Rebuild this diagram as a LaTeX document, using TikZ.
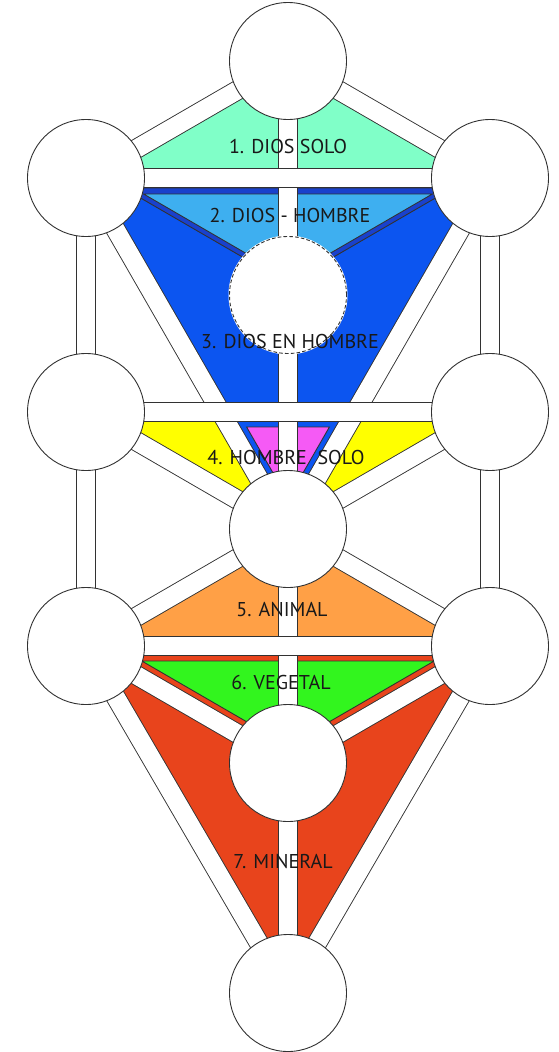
\documentclass[tikz,border=0pt]{standalone}
\usepackage{fontspec}
\setmainfont{PT Sans}
\definecolor{mint}{RGB}{128,255,200}
\definecolor{lblue}{RGB}{62,175,240}
\definecolor{dblue}{RGB}{25,65,205}
\definecolor{mblue}{RGB}{12,85,240}
\definecolor{mag}{RGB}{245,90,245}
\definecolor{yel}{RGB}{255,255,0}
\definecolor{orng}{RGB}{255,160,70}
\definecolor{grn}{RGB}{50,245,30}
\definecolor{redr}{RGB}{232,68,28}
\definecolor{ink}{RGB}{50,50,50}
\definecolor{txt}{RGB}{25,25,25}
\begin{document}
\begin{tikzpicture}[x=1pt,y=-1pt,line join=miter,
  outl/.style={draw=ink,line width=0.9pt},
  pathbar/.style={draw=ink,line width=0.9pt,double=white,double distance=18.2pt},
  sephira/.style={circle,draw=ink,line width=0.9pt,fill=white,minimum size=117pt,inner sep=0pt},
  lbl/.style={text=txt,font=\fontsize{20}{24}\selectfont,inner sep=0pt}]
\useasboundingbox (0,0) rectangle (559,1052);
% centres
\coordinate (K) at (288,61);
\coordinate (B) at (86,178);
\coordinate (C) at (490,178);
\coordinate (D) at (288,295);
\coordinate (G) at (86,412);
\coordinate (Ch) at (490,412);
\coordinate (T) at (288,529);
\coordinate (H) at (86,646);
\coordinate (N) at (490,646);
\coordinate (Y) at (288,763);
\coordinate (M) at (288,993);
% coloured fields
\fill[mint] (K) -- (B) -- (C) -- cycle;
\fill[yel] (G) -- (Ch) -- (T) -- cycle;
\fill[mblue] (B) -- (C) -- (T) -- cycle;
\filldraw[fill=dblue,outl] (123.3,188) -- (452.7,188) -- (288,283.4) -- cycle;
\filldraw[fill=lblue,outl] (143.6,194) -- (432.4,194) -- (288,277.7) -- cycle;
\filldraw[fill=mag,outl] (246.6,427) -- (329.4,427) -- (288,499) -- cycle;
\fill[orng] (T) -- (H) -- (N) -- cycle;
\fill[redr] (H) -- (N) -- (M) -- cycle;
\filldraw[fill=grn,outl] (141.8,661) -- (434.2,661) -- (288,745.7) -- cycle;
% paths
\draw[pathbar] (K) -- (M);
\draw[pathbar] (B) -- (H);
\draw[pathbar] (C) -- (N);
\draw[pathbar] (K) -- (B);
\draw[pathbar] (K) -- (C);
\draw[pathbar] (B) -- (T);
\draw[pathbar] (C) -- (T);
\draw[pathbar] (G) -- (T);
\draw[pathbar] (Ch) -- (T);
\draw[pathbar] (T) -- (H);
\draw[pathbar] (T) -- (N);
\draw[pathbar] (H) -- (Y);
\draw[pathbar] (N) -- (Y);
\draw[pathbar] (H) -- (M);
\draw[pathbar] (N) -- (M);
\draw[pathbar] (B) -- (C);
\draw[pathbar] (G) -- (Ch);
\draw[pathbar] (H) -- (N);
% sephiroth
\node[sephira] (kether) at (K) {};
\node[sephira] (binah) at (B) {};
\node[sephira] (chokmah) at (C) {};
\node[sephira] (geburah) at (G) {};
\node[sephira] (chesed) at (Ch) {};
\node[sephira] (tiphareth) at (T) {};
\node[sephira] (hod) at (H) {};
\node[sephira] (netzach) at (N) {};
\node[sephira] (yesod) at (Y) {};
\node[sephira] (malkuth) at (M) {};
\node[sephira,draw=white,line width=2pt] (daath) at (D) {};
\draw[ink,line width=0.9pt,dash pattern=on 3.6pt off 2.2pt] (daath.center) circle[radius=58.5pt];
% labels
\node[lbl] (t1) at (288,146) {1. DIOS SOLO};
\node[lbl] (t2) at (290,215) {2. DIOS - HOMBRE};
\node[lbl] (t3) at (290,341) {3. DIOS EN HOMBRE};
\node[lbl] (t4) at (286,457) {4. HOMBRE\ \ SOLO};
\node[lbl] (t5) at (282,610) {5. ANIMAL};
\node[lbl] (t6) at (281,682) {6. VEGETAL};
\node[lbl] (t7) at (283,861) {7. MINERAL};
\end{tikzpicture}
\end{document}
